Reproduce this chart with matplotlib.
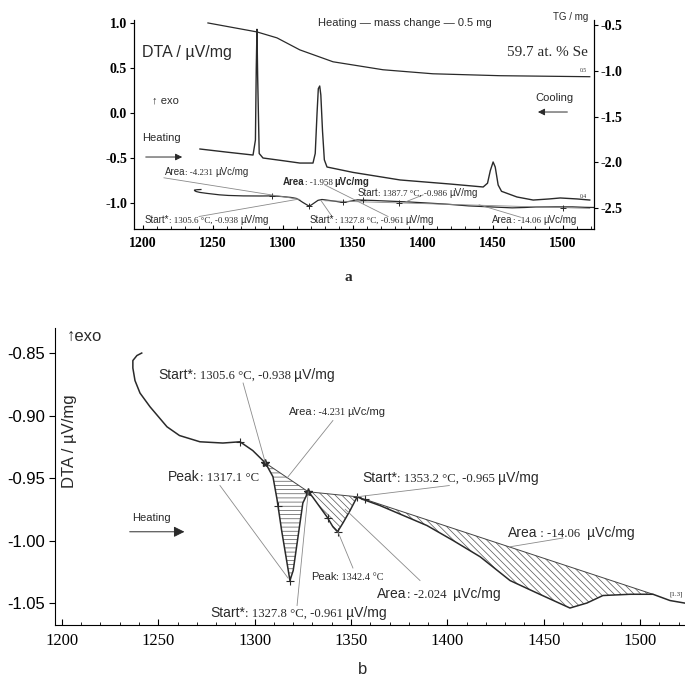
import numpy as np
import matplotlib.pyplot as plt
from matplotlib.offsetbox import TextArea, HPacker, AnnotationBbox
from matplotlib.ticker import MultipleLocator

SANS = 'Liberation Sans'
SERIF = 'Liberation Serif'
INK = '#2a2a2a'
GREY = '#8a8a8a'

# DTA heating run
heat_T = [1241.4, 1238.9, 1236.8, 1236.8, 1237.9, 1240.5, 1245.7, 1254.5, 1261.0, 1271.6,
          1283.5, 1292.4, 1299.0, 1305.6, 1309.5, 1311.6, 1314.0, 1316.8, 1318.3, 1320.0,
          1322.5, 1325.0, 1327.8, 1330.0, 1337.5, 1340.6, 1343.0, 1345.8, 1349.5, 1353.2,
          1356.0, 1365.0, 1389.4, 1403.0, 1417.0, 1432.5, 1446.5, 1463.6, 1472.4, 1480.7,
          1494.8, 1506.7, 1515.5, 1523.0]
heat_v = [-0.850, -0.852, -0.856, -0.862, -0.872, -0.882, -0.893, -0.909, -0.916, -0.921,
          -0.922, -0.921, -0.928, -0.938, -0.949, -0.967, -0.992, -1.018, -1.032, -1.024,
          -0.997, -0.970, -0.961, -0.965, -0.981, -0.989, -0.993, -0.986, -0.976, -0.965,
          -0.967, -0.972, -0.988, -1.000, -1.013, -1.032, -1.042, -1.054, -1.050, -1.044,
          -1.043, -1.043, -1.048, -1.050]

# DTA cooling run (panel a)
cool_T = [1240.7, 1260.0, 1278.6, 1280.3, 1280.9, 1281.4, 1281.9, 1283.0, 1285.7, 1300.0,
          1312.0, 1321.4, 1323.0, 1324.3, 1325.2, 1326.2, 1327.0, 1328.2, 1329.5, 1331.4,
          1350.0, 1383.6, 1420.0, 1442.9, 1446.0, 1448.0, 1450.0, 1451.5, 1453.6, 1456.0,
          1467.0, 1478.6, 1490.0, 1497.9, 1510.0, 1519.0]
cool_v = [-0.40, -0.435, -0.467, -0.30, 0.50, 0.93, 0.40, -0.45, -0.50, -0.53,
          -0.556, -0.556, -0.45, 0.00, 0.27, 0.30, 0.20, -0.20, -0.52, -0.60,
          -0.66, -0.744, -0.79, -0.822, -0.78, -0.64, -0.544, -0.60, -0.80, -0.87,
          -0.933, -0.967, -0.955, -0.944, -0.955, -0.967]

# TG, right axis of panel a
tg_T = [1246.4, 1281.4, 1295.7, 1312.0, 1335.7, 1371.4, 1407.0, 1455.0, 1519.0]
tg_v = [-0.478, -0.576, -0.641, -0.772, -0.902, -0.989, -1.033, -1.054, -1.065]

# onsets / baseline ends of the three heating effects
base_T = [1305.6, 1327.8, 1353.2, 1506.7]
base_v = [-0.938, -0.961, -0.965, -1.043]

cross_T = [1292.4, 1312.0, 1318.3, 1337.8, 1343.0, 1353.2, 1357.0]
cross_v = [-0.921, -0.972, -1.032, -0.982, -0.993, -0.965, -0.967]

plt.rcParams['axes.unicode_minus'] = False
plt.rcParams['hatch.linewidth'] = 0.5
plt.rcParams['hatch.color'] = '#555555'


def label(ax, x, y, parts, size, ha=0.0):
    kids = []
    for txt, kind in parts:
        fam = SERIF if kind == 'r' else SANS
        sz = size * 0.92 if kind == 'r' else size
        kids.append(TextArea(txt, textprops=dict(family=fam, size=sz, color=INK,
                                                 weight='bold' if kind == 'b' else 'normal')))
    box = HPacker(children=kids, align='baseline', pad=0, sep=0)
    ab = AnnotationBbox(box, (x, y), xycoords='data', box_alignment=(ha, 0.5),
                        frameon=False, pad=0, annotation_clip=False)
    ax.add_artist(ab)


def hatch_area(ax, t0, v0, t1, v1, pattern):
    T = np.array(heat_T)
    V = np.array(heat_v)
    m = (T > t0) & (T < t1) & (np.arange(len(T)) > 5)
    px = [t0] + list(T[m]) + [t1]
    py = [v0] + list(V[m]) + [v1]
    ax.fill(px, py, facecolor='none', edgecolor='#555555', hatch=pattern, lw=0)
    ax.plot([t0, t1], [v0, v1], color='#444444', lw=0.7)


fig = plt.figure(figsize=(6.85, 6.81), dpi=100)

# ---------------- panel a ----------------
ax1 = fig.add_axes([0.1956, 0.6637, 0.6715, 0.3069])
ax1.plot(cool_T, cool_v, color=INK, lw=1.0)
ax1.plot(heat_T, heat_v, color=INK, lw=0.9)
ax1.plot([1330, 1519], [-0.975, -1.06], color=GREY, lw=0.6)
ax1.plot(cross_T[::2], cross_v[::2], '+', color=INK, ms=4, mew=0.7)
ax1.plot([1383, 1500], [-1.0, -1.05], '+', color=INK, ms=4, mew=0.7)
# leader lines
for (x0, y0, x1, y1) in [(1215, -0.72, 1312, -0.96), (1240, -1.15, 1310, -0.96),
                         (1330, -0.80, 1375, -1.15), (1335, -1.15, 1327, -0.97),
                         (1387.7, -0.986, 1400, -0.91), (1470, -1.16, 1440, -1.02)]:
    ax1.plot([x0, x1], [y0, y1], color=GREY, lw=0.6)
ax1.set_xlim(1193.6, 1522)
ax1.set_ylim(-1.289, 1.033)
ax1.set_xticks([1200, 1250, 1300, 1350, 1400, 1450, 1500])
ax1.set_yticks([-1.0, -0.5, 0.0, 0.5, 1.0])
ax1.yaxis.set_major_formatter(lambda v, p: f'{v:.1f}')
ax1.xaxis.set_minor_locator(MultipleLocator(10))
ax1.tick_params(axis='x', which='both', direction='in', length=3, labelsize=10, pad=6)
ax1.tick_params(axis='x', which='minor', length=2)
ax1.tick_params(axis='y', direction='out', length=3, labelsize=10, pad=2)
for t in ax1.get_xticklabels() + ax1.get_yticklabels():
    t.set_family(SERIF)
    t.set_weight('bold')
ax1.spines['top'].set_visible(False)

ax1r = ax1.twinx()
ax1r.plot(tg_T, tg_v, color=INK, lw=0.9)
ax1r.set_ylim(-2.728, -0.446)
ax1r.set_yticks([-2.5, -2.0, -1.5, -1.0, -0.5])
ax1r.yaxis.set_major_formatter(lambda v, p: f'{v:.1f}')
ax1r.tick_params(axis='y', direction='out', length=3, labelsize=10, pad=2)
for t in ax1r.get_yticklabels():
    t.set_family(SERIF)
    t.set_weight('bold')
ax1r.spines['top'].set_visible(False)
ax1r.text(1512, -1.02, '0.5', fontsize=4, family=SERIF, color=INK, va='bottom')
ax1.text(1512, -0.95, '0.4', fontsize=4, family=SERIF, color=INK, va='bottom')

ax1.text(1199.3, 0.667, 'DTA / µV/mg', family=SANS, fontsize=11.5, color=INK, va='center')
ax1.text(1325, 1.0, 'Heating — mass change — 0.5 mg', family=SANS, fontsize=8, color=INK,
         va='center')
ax1.text(1518, 1.067, 'TG / mg', family=SANS, fontsize=7, color=INK, va='center', ha='right',
         clip_on=False)
ax1.text(1517.5, 0.667, '59.7 at. % Se', family=SERIF, fontsize=11, color=INK, va='center',
         ha='right')
ax1.text(1206.4, 0.144, '↑ exo', family=SANS, fontsize=8, color=INK, va='center')
ax1.text(1199.3, -0.278, 'Heating', family=SANS, fontsize=8, color=INK, va='center')
ax1.annotate('', xy=(1230, -0.489), xytext=(1200, -0.489),
             arrowprops=dict(arrowstyle='-|>', color=INK, lw=0.7, mutation_scale=10))
ax1.text(1480, 0.167, 'Cooling', family=SANS, fontsize=8, color=INK, va='center')
ax1.annotate('', xy=(1480, 0.011), xytext=(1505, 0.011),
             arrowprops=dict(arrowstyle='-|>', color=INK, lw=0.7, mutation_scale=10))

label(ax1, 1215.7, -0.656, [('Area', 's'), (': -4.231 ', 'r'), ('µVc/mg', 's')], 7)
label(ax1, 1300, -0.767, [('Area', 'b'), (': -1.958 ', 'r'), ('µVc/mg', 'b')], 7)
label(ax1, 1352.9, -0.889, [('Start', 's'), (': 1387.7 °C, -0.986 ', 'r'), ('µV/mg', 's')], 7)
label(ax1, 1201.4, -1.189, [('Start*', 's'), (': 1305.6 °C, -0.938 ', 'r'), ('µV/mg', 's')], 7)
label(ax1, 1319.3, -1.189, [('Start*', 's'), (': 1327.8 °C, -0.961 ', 'r'), ('µV/mg', 's')], 7)
label(ax1, 1449.3, -1.189, [('Area', 's'), (': -14.06 ', 'r'), ('µVc/mg', 's')], 7)

fig.text(348 / 685, 1 - 277 / 681, 'a', family=SERIF, weight='bold', fontsize=11,
         ha='center', va='center', color=INK)

# ---------------- panel b ----------------
ax2 = fig.add_axes([0.0803, 0.0822, 0.9197, 0.4361])
hatch_area(ax2, base_T[0], base_v[0], base_T[1], base_v[1], '----')
hatch_area(ax2, base_T[1], base_v[1], base_T[2], base_v[2], '\\\\\\\\\\')
hatch_area(ax2, base_T[2], base_v[2], base_T[3], base_v[3], '\\\\\\\\\\')
ax2.plot(heat_T, heat_v, color=INK, lw=1.1)
ax2.plot(cross_T, cross_v, '+', color=INK, ms=6, mew=0.8)
ax2.plot(base_T[:2], base_v[:2], '*', color=INK, ms=6)

for (x0, y0, x1, y1) in [(1294, -0.874, 1305.6, -0.938), (1340.6, -0.904, 1316.8, -0.950),
                         (1282, -0.956, 1317.3, -1.030), (1322, -1.052, 1327.8, -0.961),
                         (1351, -1.022, 1343.2, -0.993), (1385.8, -1.032, 1347, -0.975),
                         (1401, -0.956, 1353.2, -0.965), (1460, -0.998, 1432.5, -1.005)]:
    ax2.plot([x0, x1], [y0, y1], color=GREY, lw=0.6)

ax2.set_xlim(1196.4, 1523.3)
ax2.set_ylim(-1.0676, -0.83)
ax2.set_xticks([1200, 1250, 1300, 1350, 1400, 1450, 1500])
ax2.set_yticks([-1.05, -1.00, -0.95, -0.90, -0.85])
ax2.yaxis.set_major_formatter(lambda v, p: f'{v:.2f}')
ax2.xaxis.set_minor_locator(MultipleLocator(10))
ax2.tick_params(axis='x', which='both', direction='in', length=4, labelsize=12, pad=6)
ax2.tick_params(axis='x', which='minor', length=2.5)
ax2.tick_params(axis='y', direction='out', length=4, labelsize=12, pad=3)
for t in ax2.get_xticklabels():
    t.set_family(SERIF)
for t in ax2.get_yticklabels():
    t.set_family(SANS)
ax2.spines['top'].set_visible(False)
ax2.spines['right'].set_visible(False)
ax2.set_ylabel('DTA / µV/mg', family=SANS, fontsize=12, color=INK, labelpad=2)
ax2.yaxis.set_label_coords(0.035, 0.62)

ax2.text(1202.6, -0.837, '↑exo', family=SANS, fontsize=12, color=INK, va='center',
         clip_on=False)
ax2.text(1236.3, -0.982, 'Heating', family=SANS, fontsize=8, color=INK, va='center')
ax2.annotate('', xy=(1265, -0.993), xytext=(1233.7, -0.993),
             arrowprops=dict(arrowstyle='-|>', color=INK, lw=0.7, mutation_scale=16))
ax2.text(1515.5, -1.043, '[1.3]', family=SERIF, fontsize=5, color=INK, va='center')

label(ax2, 1249.8, -0.8676, [('Start*', 's'), (': 1305.6 °C, -0.938 ', 'r'), ('µV/mg', 's')], 10)
label(ax2, 1317.8, -0.897, [('Area', 's'), (': -4.231 ', 'r'), ('µVc/mg', 's')], 8)
label(ax2, 1255.0, -0.949, [('Peak', 's'), (': 1317.1 °C', 'r')], 10)
label(ax2, 1355.7, -0.950, [('Start*', 's'), (': 1353.2 °C, -0.965 ', 'r'), ('µV/mg', 's')], 10)
label(ax2, 1431.4, -0.994, [('Area', 's'), (' : -14.06  ', 'r'), ('µVc/mg', 's')], 10)
label(ax2, 1329.2, -1.029, [('Peak', 's'), (': 1342.4 °C', 'r')], 8)
label(ax2, 1363.5, -1.043, [('Area', 's'), (': -2.024  ', 'r'), ('µVc/mg', 's')], 10)
label(ax2, 1276.8, -1.058, [('Start*', 's'), (': 1327.8 °C, -0.961 ', 'r'), ('µV/mg', 's')], 10)

fig.text(363 / 685, 1 - 670 / 681, 'b', family=SANS, fontsize=12, ha='center', va='center',
         color=INK)

plt.savefig('out.png', dpi=100)
